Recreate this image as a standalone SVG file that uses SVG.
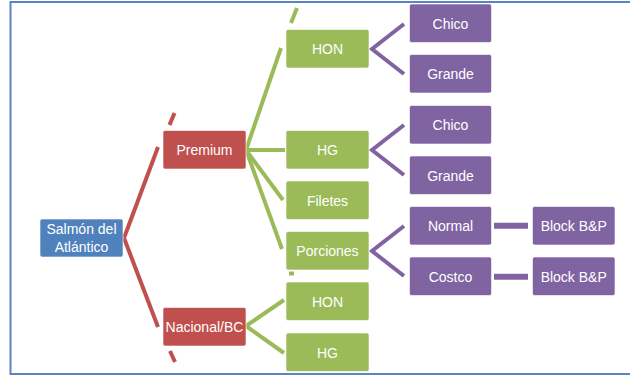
<svg xmlns="http://www.w3.org/2000/svg" width="630" height="377" viewBox="0 0 630 377">
<style>
rect.n{stroke:#ffffff;stroke-opacity:0.6;stroke-width:1}
.blue{fill:#4F81BD}.red{fill:#C0504D}.green{fill:#9BBB59}.purple{fill:#8064A2}
text{font-family:"Liberation Sans",Arial,sans-serif;font-size:14px;fill:#ffffff;text-anchor:middle}
.cr{stroke:#C0504D;stroke-width:4;fill:none}
.cg{stroke:#9BBB59;stroke-width:4;fill:none}
.cp{stroke:#8064A2;stroke-width:4;fill:none}
.cp6{stroke:#8064A2;stroke-width:6;fill:none}
</style>
<rect x="10.5" y="2" width="640" height="372" fill="#ffffff" stroke="#5B84C4" stroke-width="2"/>
<g id="connectors">
<line class="cr" x1="124" y1="238" x2="158" y2="147"/>
<line class="cr" x1="169.5" y1="125" x2="174.5" y2="113"/>
<line class="cr" x1="124" y1="238" x2="158" y2="327"/>
<line class="cr" x1="170" y1="351" x2="175" y2="362"/>
<line class="cg" x1="246" y1="150" x2="281" y2="48"/>
<line class="cg" x1="291" y1="23" x2="297" y2="8"/>
<line class="cg" x1="246" y1="150" x2="285" y2="150"/>
<line class="cg" x1="246" y1="150" x2="283" y2="200"/>
<line class="cg" x1="246" y1="150" x2="282" y2="249"/>
<line class="cg" x1="289" y1="273.5" x2="294" y2="273.5" stroke-width="1.5"/>
<line class="cg" x1="246" y1="326" x2="284" y2="300"/>
<line class="cg" x1="246" y1="326" x2="284" y2="353"/>
<polyline class="cp" points="404,24 372,49 404,74"/>
<polyline class="cp" points="404,125 372,150 404,175"/>
<polyline class="cp" points="404,226 372,251 404,276"/>
<line class="cp6" x1="494" y1="225.7" x2="528" y2="225.7"/>
<line class="cp6" x1="494" y1="276.7" x2="528" y2="276.7"/>
</g>
<g id="salmon"><rect class="n blue" x="40" y="219" width="83" height="38" rx="2"/><text x="81.5" y="234">Salmón del</text><text x="81.5" y="251.5">Atlántico</text></g>
<g id="premium"><rect class="n red" x="163" y="130.5" width="83" height="38.5" rx="2"/><text x="204.5" y="155">Premium</text></g>
<g id="nacional"><rect class="n red" x="163" y="307.5" width="83" height="38.5" rx="2"/><text x="204.5" y="332">Nacional/BC</text></g>
<g id="hon1"><rect class="n green" x="286" y="29.5" width="83" height="38.5" rx="2"/><text x="327.5" y="54">HON</text></g>
<g id="hg1"><rect class="n green" x="286" y="130.5" width="83" height="38.5" rx="2"/><text x="327.5" y="155">HG</text></g>
<g id="filetes"><rect class="n green" x="286" y="181" width="83" height="38.5" rx="2"/><text x="327.5" y="205.5">Filetes</text></g>
<g id="porciones"><rect class="n green" x="286" y="231.5" width="83" height="38.5" rx="2"/><text x="327.5" y="256">Porciones</text></g>
<g id="hon2"><rect class="n green" x="286" y="282" width="83" height="38.5" rx="2"/><text x="327.5" y="306.5">HON</text></g>
<g id="hg2"><rect class="n green" x="286" y="333" width="83" height="38.5" rx="2"/><text x="327.5" y="357.5">HG</text></g>
<g id="chico1"><rect class="n purple" x="409.5" y="4" width="82" height="38.5" rx="2"/><text x="450.5" y="28.5">Chico</text></g>
<g id="grande1"><rect class="n purple" x="409.5" y="54.5" width="82" height="38.5" rx="2"/><text x="450.5" y="79">Grande</text></g>
<g id="chico2"><rect class="n purple" x="409.5" y="105.5" width="82" height="38.5" rx="2"/><text x="450.5" y="130">Chico</text></g>
<g id="grande2"><rect class="n purple" x="409.5" y="156" width="82" height="38.5" rx="2"/><text x="450.5" y="180.5">Grande</text></g>
<g id="normal"><rect class="n purple" x="409.5" y="206.5" width="82" height="38.5" rx="2"/><text x="450.5" y="231">Normal</text></g>
<g id="costco"><rect class="n purple" x="409.5" y="257" width="82" height="38.5" rx="2"/><text x="450.5" y="281.5">Costco</text></g>
<g id="block1"><rect class="n purple" x="532.5" y="206.5" width="82.5" height="38.5" rx="2"/><text x="573.7" y="231">Block B&amp;P</text></g>
<g id="block2"><rect class="n purple" x="532.5" y="257" width="82.5" height="38.5" rx="2"/><text x="573.7" y="281.5">Block B&amp;P</text></g>
</svg>
